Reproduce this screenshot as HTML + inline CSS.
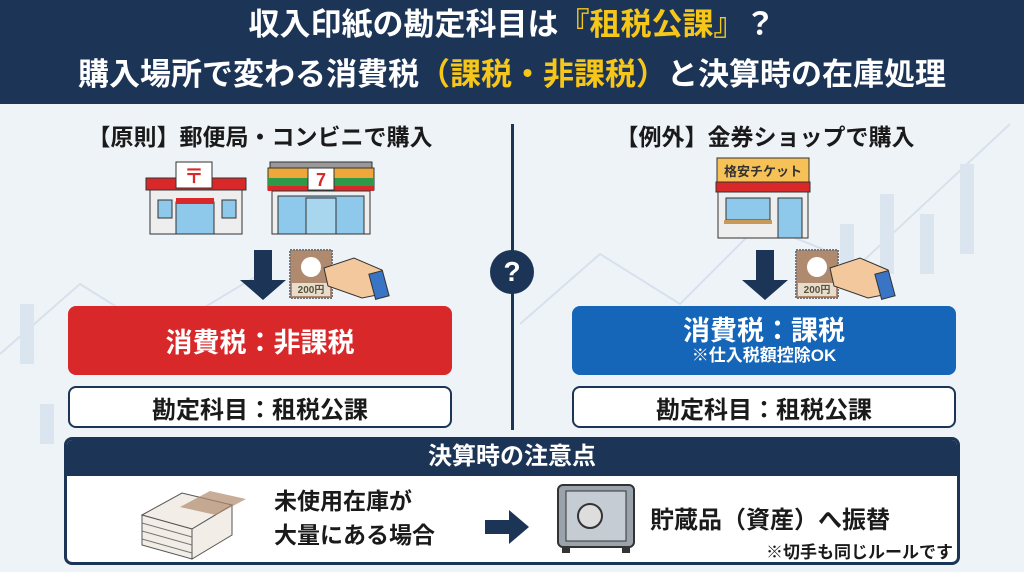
<!DOCTYPE html>
<html><head><meta charset="utf-8"><style>
*{margin:0;padding:0;box-sizing:border-box}
body{width:1024px;height:572px;overflow:hidden;background:#eef3f8;font-family:"Liberation Sans","Noto Sans CJK JP",sans-serif;position:relative;font-weight:bold}
.a{position:absolute}
.hd{left:0;top:0;width:1024px;height:104px;background:#1c3557;color:#fff;text-align:center;font-size:31px;line-height:50px;padding-top:0px;white-space:nowrap}
.y{color:#f6c619}
.t{font-size:23px;color:#1a1a1a;text-align:center;white-space:nowrap}
.box{border-radius:8px;display:flex;align-items:center;justify-content:center;flex-direction:column;text-align:center}
</style></head><body>
<svg class="a" style="left:0;top:104px" width="1024" height="468">
 <g stroke="#d6e1ec" stroke-width="2" fill="none"><polyline points="520,220 600,150 680,200 760,120 860,160 1010,20"/><polyline points="0,250 80,180 160,230 260,170"/></g>
 <g fill="#dbe5ef"><rect x="840" y="120" width="14" height="60"/><rect x="880" y="90" width="14" height="80"/><rect x="920" y="110" width="14" height="60"/><rect x="960" y="60" width="14" height="90"/><rect x="20" y="200" width="14" height="60"/><rect x="40" y="300" width="14" height="40"/></g>
</svg>
<div class="a hd">収入印紙の勘定科目は<span class="y">『租税公課』</span>？<br>購入場所で変わる消費税<span class="y">（課税・非課税）</span>と決算時の在庫処理</div>
<div class="a" style="left:511px;top:124px;width:3px;height:306px;background:#1c3557"></div>
<div class="a" style="left:490px;top:250px;width:44px;height:44px;border-radius:50%;background:#1c3557;color:#fff;font-size:28px;line-height:44px;text-align:center">?</div>
<div class="a t" style="left:60px;top:118px;width:400px">【原則】郵便局・コンビニで購入</div>
<div class="a t" style="left:570px;top:118px;width:390px">【例外】金券ショップで購入</div>
<svg class="a" style="left:0;top:150px" width="1024" height="155">
 <rect x="146" y="28" width="100" height="12" fill="#d9282a" stroke="#333"/>
 <rect x="176" y="12" width="36" height="26" fill="#fff" stroke="#333"/>
 <text x="194" y="33" font-size="20" fill="#d9282a" text-anchor="middle" font-family="Liberation Sans,Noto Sans CJK JP,sans-serif">〒</text>
 <rect x="150" y="40" width="92" height="44" fill="#eee" stroke="#333"/>
 <rect x="158" y="50" width="14" height="18" fill="#8ec8ea" stroke="#333"/><rect x="222" y="50" width="14" height="18" fill="#8ec8ea" stroke="#333"/>
 <rect x="176" y="52" width="38" height="32" fill="#8ec8ea" stroke="#333"/><rect x="176" y="48" width="38" height="6" fill="#d9282a"/>
 <rect x="270" y="12" width="102" height="6" fill="#999" stroke="#333"/>
 <rect x="268" y="18" width="106" height="22" fill="#f0a73a" stroke="#333"/>
 <rect x="268" y="28" width="106" height="8" fill="#2e9a47"/><rect x="268" y="36" width="106" height="5" fill="#d9282a"/>
 <rect x="308" y="18" width="26" height="22" fill="#fff" stroke="#333"/><text x="321" y="36" font-size="18" fill="#d9282a" text-anchor="middle">7</text>
 <rect x="272" y="41" width="98" height="43" fill="#eee" stroke="#333"/>
 <rect x="278" y="46" width="86" height="38" fill="#8ec8ea" stroke="#333"/>
 <rect x="306" y="48" width="30" height="36" fill="#a9d6ef" stroke="#333"/>
 <rect x="717" y="8" width="92" height="24" fill="#f6c257" stroke="#333"/>
 <text x="763" y="26" font-size="13" fill="#333" text-anchor="middle" font-family="Liberation Sans,Noto Sans CJK JP,sans-serif" font-weight="bold">格安チケット</text>
 <rect x="716" y="32" width="94" height="10" fill="#d9282a" stroke="#333"/>
 <rect x="718" y="42" width="90" height="46" fill="#eee" stroke="#333"/>
 <rect x="726" y="48" width="44" height="22" fill="#8ec8ea" stroke="#333"/><rect x="724" y="70" width="48" height="4" fill="#c79a5a"/>
 <rect x="778" y="48" width="24" height="40" fill="#8ec8ea" stroke="#333"/>
 <path d="M254 100h18v30h14l-23 20-23-20h14z" fill="#1c3557"/>
 <path d="M756 100h18v30h14l-23 20-23-20h14z" fill="#1c3557"/>
 <g id="st"><rect x="290" y="100" width="42" height="48" fill="#b08a6e" stroke="#777" stroke-dasharray="2 1" stroke-width="2"/><circle cx="311" cy="117" r="10" fill="#fff"/><rect x="292" y="133" width="38" height="13" fill="#e8dccf"/><text x="311" y="143" font-size="10" text-anchor="middle" fill="#553">200円</text>
 <path d="M324 118l30-10 28 12v24l-20 4-34-12z" fill="#f3c89c" stroke="#333"/><rect x="372" y="122" width="14" height="26" fill="#3a74c4" stroke="#333" transform="rotate(-15 379 135)"/></g>
 <use href="#st" x="506"/>
</svg>
<div class="a box" style="left:68px;top:306px;width:384px;height:69px;background:#d9282a;color:#fff;font-size:27px">消費税：非課税</div>
<div class="a box" style="left:572px;top:306px;width:384px;height:69px;background:#1565b8;color:#fff;font-size:27px;line-height:30px">消費税：課税<span style="font-size:17px;line-height:20px">※仕入税額控除OK</span></div>
<div class="a box" style="left:68px;top:386px;width:384px;height:42px;background:#fff;border:2px solid #1c3557;font-size:24px;color:#1a1a1a">勘定科目：租税公課</div>
<div class="a box" style="left:572px;top:386px;width:384px;height:42px;background:#fff;border:2px solid #1c3557;font-size:24px;color:#1a1a1a">勘定科目：租税公課</div>
<div class="a" style="left:64px;top:437px;width:896px;height:128px;background:#fff;border:3px solid #1c3557;border-radius:8px;overflow:hidden">
 <div style="background:#1c3557;color:#fff;height:36px;line-height:34px;text-align:center;font-size:24px">決算時の注意点</div>
</div>
<svg class="a" style="left:130px;top:475px" width="520" height="90">
 <g fill="#f2ede6" stroke="#555"><path d="M12 40l40-22 50 12-40 24z"/><path d="M12 40v30l50 14v-30z"/><path d="M62 54v30l40-24v-30z"/></g>
 <g stroke="#777" stroke-width="1"><line x1="12" y1="48" x2="62" y2="62"/><line x1="12" y1="56" x2="62" y2="70"/><line x1="12" y1="64" x2="62" y2="78"/></g>
 <path d="M50 32l36 8 30-16-36-8z" fill="#b08a6e" opacity=".7"/>
 <path d="M355 45h24v-10l20 17-20 17v-10h-24z" fill="#1c3557"/>
 <rect x="428" y="10" width="76" height="62" rx="5" fill="#9aa3ac" stroke="#333" stroke-width="2"/>
 <rect x="436" y="16" width="60" height="50" fill="#c5ccd3" stroke="#333"/>
 <circle cx="460" cy="41" r="12" fill="#ddd" stroke="#333" stroke-width="2"/>
 <rect x="432" y="72" width="8" height="6" fill="#333"/><rect x="492" y="72" width="8" height="6" fill="#333"/>
</svg>
<div class="a" style="left:274px;top:484px;font-size:23px;line-height:34px;color:#1a1a1a">未使用在庫が<br>大量にある場合</div>
<div class="a" style="left:650px;top:500px;font-size:24px;color:#1a1a1a;white-space:nowrap">貯蔵品（資産）へ振替</div>
<div class="a" style="left:766px;top:538px;font-size:17px;color:#1a1a1a;white-space:nowrap">※切手も同じルールです</div>
</body></html>
